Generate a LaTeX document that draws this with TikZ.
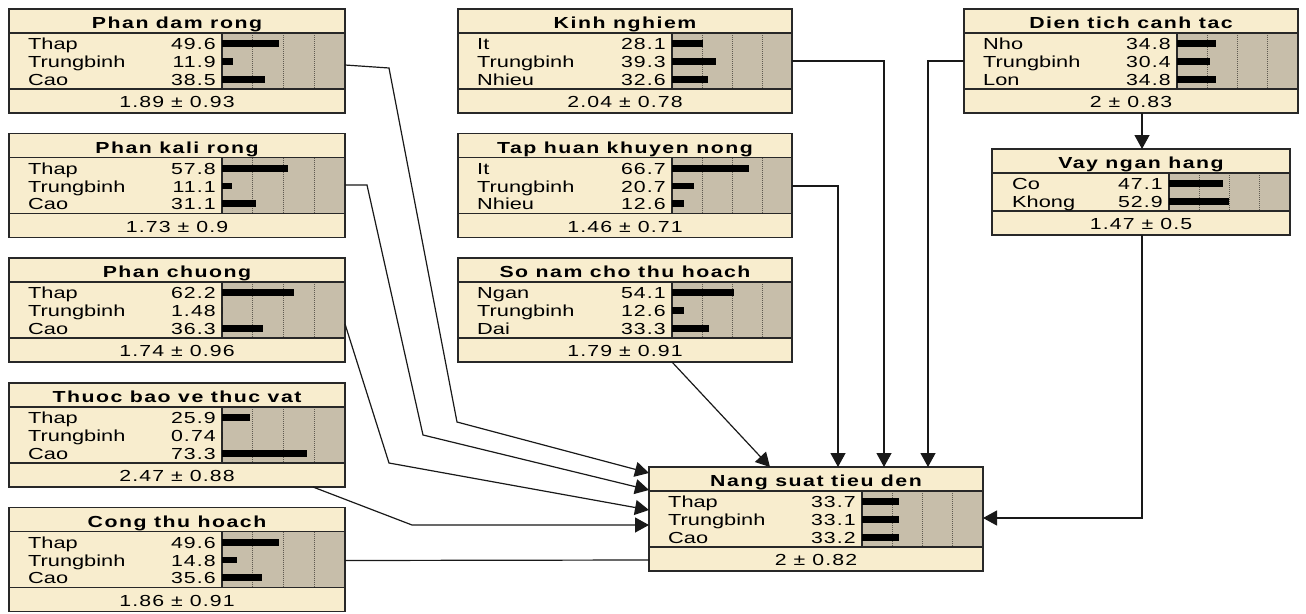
\documentclass[tikz,border=0pt]{standalone}
\usepackage{fontspec}
\setmainfont{Liberation Sans}
\newfontfamily\statefont[FakeStretch=1.36]{Liberation Sans}
\newfontfamily\numfont[FakeStretch=1.33,LetterSpace=7]{Liberation Sans}
\newfontfamily\titlefont[FakeStretch=1.33,LetterSpace=9.5]{Liberation Sans}
\usetikzlibrary{arrows.meta,calc}
\definecolor{bnbeige}{RGB}{248,237,206}
\definecolor{bngray}{RGB}{199,190,170}
\definecolor{bnline}{RGB}{40,40,40}
\definecolor{bngridc}{RGB}{95,90,80}
\tikzset{
  bnbox/.style={draw=bnline, line width=1.4pt, inner sep=0pt, outer sep=0pt},
  bndiv/.style={draw=bnline, line width=1.4pt},
  bngrid/.style={draw=bngridc, line width=0.7pt, dash pattern=on 1pt off 1pt},
  bntitle/.style={inner sep=0pt, anchor=base, font=\titlefont\bfseries\fontsize{16}{19}\selectfont},
  bnfoot/.style={inner sep=0pt, anchor=base, font=\numfont\fontsize{16}{19}\selectfont},
  bnstate/.style={inner sep=0pt, anchor=base west, font=\statefont\fontsize{16}{19}\selectfont},
  bnnum/.style={inner sep=0pt, anchor=base east, font=\numfont\fontsize{16}{19}\selectfont},
  conn/.style={draw=black!90, line width=1.2pt},
  arr/.style={conn, -{Triangle[length=14pt,width=15pt]}}
}
% #1 id, #2 x, #3 y, #4 width, #5 gray offset, #6 nstates, #7 title, #8 footer
\newcommand\BNbox[8]{%
  \pgfmathsetmacro\bnS{18*#6+2}%
  \pgfmathsetmacro\bnH{48+\bnS}%
  \fill[bnbeige] (#2,#3) rectangle ++(#4,\bnH);
  \fill[bngray] ({#2+#5},{#3+24}) rectangle ({#2+#4},{#3+24+\bnS});
  \foreach \q in {1,2,3} \draw[bngrid] ({#2+#5+\q*(#4-#5)/4},{#3+24}) -- ++(0,\bnS);
  \draw[bndiv] (#2,{#3+24}) -- ++(#4,0);
  \draw[bndiv] (#2,{#3+24+\bnS}) -- ++(#4,0);
  \draw[bndiv] ({#2+#5},{#3+24}) -- ++(0,\bnS);
  \node[bnbox, minimum width=#4, minimum height=\bnH, anchor=north west] (#1) at (#2,#3) {};
  \node[bntitle] at ({#2+#4/2},{#3+19.5}) {#7};
  \node[bnfoot] at ({#2+#4/2},{#3+24+\bnS+18.5}) {#8};
}
% #1 x, #2 y, #3 gray offset, #4 row index, #5 name, #6 value, #7 left text offset
\newcommand\BNrow[7]{%
  \pgfmathsetmacro\bnyc{#2+24+10.8+17.7*(#4-1)}%
  \pgfmathsetmacro\bnlen{max(0,#6*1.2-3)}%
  \node[bnstate] at ({#1+#7},{\bnyc+6}) {#5};
  \node[bnnum] at ({#1+#3-6},{\bnyc+6}) {#6};
  \fill[black] ({#1+#3},{\bnyc-3.4}) rectangle ++(\bnlen,6.8);
}
\begin{document}
\begin{tikzpicture}[x=1pt,y=-1pt]
\useasboundingbox (0,0) rectangle (1306,613);
\fill[white] (0,0) rectangle (1306,613);

% ---------- left column ----------
\BNbox{pdr}{9}{9}{336}{213}{3}{Phan dam rong}{1.89 ± 0.93}
\BNrow{9}{9}{213}{1}{Thap}{49.6}{19}
\BNrow{9}{9}{213}{2}{Trungbinh}{11.9}{19}
\BNrow{9}{9}{213}{3}{Cao}{38.5}{19}

\BNbox{pkr}{9}{133.5}{336}{213}{3}{Phan kali rong}{1.73 ± 0.9}
\BNrow{9}{133.5}{213}{1}{Thap}{57.8}{19}
\BNrow{9}{133.5}{213}{2}{Trungbinh}{11.1}{19}
\BNrow{9}{133.5}{213}{3}{Cao}{31.1}{19}

\BNbox{pc}{9}{258}{336}{213}{3}{Phan chuong}{1.74 ± 0.96}
\BNrow{9}{258}{213}{1}{Thap}{62.2}{19}
\BNrow{9}{258}{213}{2}{Trungbinh}{1.48}{19}
\BNrow{9}{258}{213}{3}{Cao}{36.3}{19}

\BNbox{tbv}{9}{383}{336}{213}{3}{Thuoc bao ve thuc vat}{2.47 ± 0.88}
\BNrow{9}{383}{213}{1}{Thap}{25.9}{19}
\BNrow{9}{383}{213}{2}{Trungbinh}{0.74}{19}
\BNrow{9}{383}{213}{3}{Cao}{73.3}{19}

\BNbox{cth}{9}{507.5}{336}{213}{3}{Cong thu hoach}{1.86 ± 0.91}
\BNrow{9}{507.5}{213}{1}{Thap}{49.6}{19}
\BNrow{9}{507.5}{213}{2}{Trungbinh}{14.8}{19}
\BNrow{9}{507.5}{213}{3}{Cao}{35.6}{19}

% ---------- middle column ----------
\BNbox{kn}{458}{9}{334}{214}{3}{Kinh nghiem}{2.04 ± 0.78}
\BNrow{458}{9}{214}{1}{It}{28.1}{19}
\BNrow{458}{9}{214}{2}{Trungbinh}{39.3}{19}
\BNrow{458}{9}{214}{3}{Nhieu}{32.6}{19}

\BNbox{th}{458}{133.5}{334}{214}{3}{Tap huan khuyen nong}{1.46 ± 0.71}
\BNrow{458}{133.5}{214}{1}{It}{66.7}{19}
\BNrow{458}{133.5}{214}{2}{Trungbinh}{20.7}{19}
\BNrow{458}{133.5}{214}{3}{Nhieu}{12.6}{19}

\BNbox{sn}{458}{258}{334}{214}{3}{So nam cho thu hoach}{1.79 ± 0.91}
\BNrow{458}{258}{214}{1}{Ngan}{54.1}{19}
\BNrow{458}{258}{214}{2}{Trungbinh}{12.6}{19}
\BNrow{458}{258}{214}{3}{Dai}{33.3}{19}

% ---------- right column ----------
\BNbox{dt}{964}{9}{334}{213}{3}{Dien tich canh tac}{2 ± 0.83}
\BNrow{964}{9}{213}{1}{Nho}{34.8}{19}
\BNrow{964}{9}{213}{2}{Trungbinh}{30.4}{19}
\BNrow{964}{9}{213}{3}{Lon}{34.8}{19}

\BNbox{vay}{992}{149}{298}{177}{2}{Vay ngan hang}{1.47 ± 0.5}
\BNrow{992}{149}{177}{1}{Co}{47.1}{20}
\BNrow{992}{149}{177}{2}{Khong}{52.9}{20}

% ---------- target ----------
\BNbox{ns}{649}{467}{334}{213}{3}{Nang suat tieu den}{2 ± 0.82}
\BNrow{649}{467}{213}{1}{Thap}{33.7}{19}
\BNrow{649}{467}{213}{2}{Trungbinh}{33.1}{19}
\BNrow{649}{467}{213}{3}{Cao}{33.2}{19}

% ---------- connectors ----------
\coordinate (c1a) at (389,68);
\coordinate (c1b) at (457,422);
\coordinate (c2a) at (367,185);
\coordinate (c2b) at (423,435);
\coordinate (c3a) at (389,463);
\coordinate (c4a) at (412,525);
\coordinate (c7) at (838,186);
\coordinate (c8) at (884,61);
\coordinate (c9) at (928,61);
\coordinate (c11) at (1142,518);

\draw[arr] ($(pdr.north east)+(0,56)$) -- (c1a) -- (c1b) -- ($(ns.north west)+(0,6)$);
\draw[arr] ($(pkr.north east)+(0,51.5)$) -- (c2a) -- (c2b) -- ($(ns.north west)+(0,23)$);
\draw[arr] ($(pc.north east)+(0,66)$) -- (c3a) -- ($(ns.north west)+(0,43)$);
\draw[arr] ($(tbv.south west)+(304,0)$) -- (c4a) -- ($(ns.north west)+(0,58)$);
\draw[conn] ($(cth.north east)+(0,53)$) -- ($(ns.north west)+(0,93)$);
\draw[arr] ($(sn.south west)+(214,0)$) -- ($(ns.north west)+(121,0)$);
\draw[arr] ($(th.north east)+(0,52.5)$) -- (c7) -- (c7 |- ns.north);
\draw[arr] ($(kn.north east)+(0,52)$) -- (c8) -- (c8 |- ns.north);
\draw[arr] ($(dt.north west)+(0,52)$) -- (c9) -- (c9 |- ns.north);
\draw[arr] ($(dt.south west)+(178,0)$) -- ($(vay.north west)+(150,0)$);
\draw[arr] ($(vay.south west)+(150,0)$) -- (c11) -- (c11 -| ns.east);
\end{tikzpicture}
\end{document}
